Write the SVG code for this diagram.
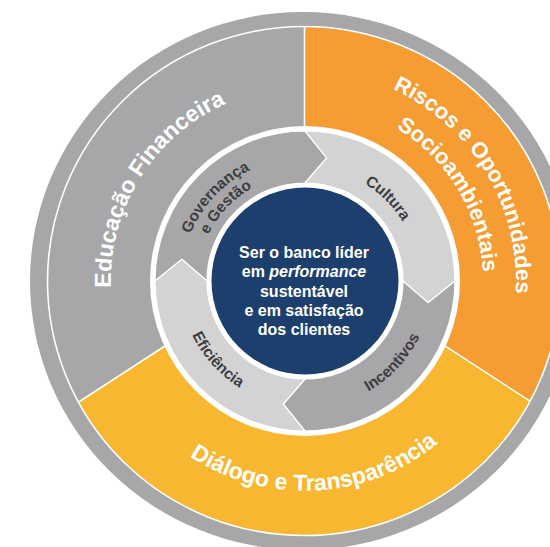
<svg xmlns="http://www.w3.org/2000/svg" xmlns:xlink="http://www.w3.org/1999/xlink" width="550" height="547" viewBox="0 0 550 547">
  <style>
    .outer-label { font-family: "Liberation Sans", Arial, sans-serif; font-weight: bold; font-size: 23px; fill: #ffffff; }
    .outer-label.narrow { font-size: 22px; }
    .ring-label { font-family: "Liberation Sans", Arial, sans-serif; font-weight: bold; font-size: 15.5px; fill: #3d3d3f; }
    .core-label { font-family: "Liberation Sans", Arial, sans-serif; font-weight: bold; font-size: 16px; fill: #ffffff; text-anchor: middle; }
    .divider { stroke: #ffffff; stroke-width: 1.6; fill: none; }
    .chevron { stroke: #ffffff; stroke-width: 1.2; stroke-linejoin: miter; }
    .dark { fill: #a7a7aa; }
    .light { fill: #d3d3d4; }
  </style>
  <defs>
    <clipPath id="bandClip">
      <ellipse cx="304" cy="281" rx="256" ry="254"/>
    </clipPath>
    <!-- baseline arcs for the curved labels -->
    <path id="arcEducacao" d="M175.2,425.2 A194,194 0 0 1 377.7,101.1"/>
    <path id="arcRiscos" d="M229.4,84 A211,211 0 0 1 443.4,440.2"/>
    <path id="arcSocio" d="M241.2,114.8 A178,178 0 0 1 421.8,415.3"/>
    <path id="arcDialogo" d="M100.4,328.2 A210,210 0 0 0 513.4,306.6"/>
    <path id="arcGov1" d="M206,355.6 A124,124 0 0 1 372.5,177"/>
    <path id="arcGov2" d="M219.5,345.4 A107,107 0 0 1 363.3,191.3"/>
    <path id="arcCultura" d="M239.6,187.6 A114,114 0 0 1 398.4,346.4"/>
    <path id="arcIncentivos" d="M235.6,387.9 A127.5,127.5 0 0 0 406.8,204.3"/>
    <path id="arcEficiencia" d="M206.5,204 A125,125 0 0 0 371.2,387"/>
  </defs>

  <rect width="550" height="547" fill="#ffffff"/>

  <!-- outer grey rim -->
  <ellipse cx="303" cy="281" rx="273" ry="269" fill="#a7a7aa"/>

  <!-- outer band: three pillars -->
  <g id="pillars" clip-path="url(#bandClip)">
    <g id="educacao-financeira">
      <polygon points="305,255 0,453.1 0,-10 305,-10" fill="#a7a7aa"/>
    </g>
    <g id="riscos-oportunidades">
      <polygon points="305,255 305,-10 600,-10 600,446.6" fill="#f59c33"/>
    </g>
    <g id="dialogo-transparencia">
      <polygon points="305,255 600,446.6 600,600 0,600 0,453.1" fill="#f8b730"/>
    </g>
    <line class="divider" x1="304.5" y1="255" x2="304.5" y2="0"/>
    <line class="divider" x1="305" y1="255" x2="600" y2="446.6"/>
    <line class="divider" x1="305" y1="255" x2="0" y2="453.1"/>
  </g>
  <ellipse cx="304" cy="281" rx="256.5" ry="254.5" class="divider"/>

  <!-- gap between pillars and the cycle ring -->
  <circle cx="305" cy="281" r="155" fill="#ffffff"/>

  <!-- cycle ring: four chevron segments -->
  <g id="governanca-gestao">
    <path class="dark chevron" d="M155,281 A150,150 0 0 1 305,131 L326.7,157.9 L305,183 A98,98 0 0 0 207,281 L181.9,259.3 Z"/>
  </g>
  <g id="cultura">
    <path class="light chevron" d="M305,131 A150,150 0 0 1 455,281 L428.1,302.7 L403,281 A98,98 0 0 0 305,183 L326.7,157.9 Z"/>
  </g>
  <g id="incentivos">
    <path class="dark chevron" d="M455,281 A150,150 0 0 1 305,431 L283.3,404.1 L305,379 A98,98 0 0 0 403,281 L428.1,302.7 Z"/>
  </g>
  <g id="eficiencia">
    <path class="light chevron" d="M305,431 A150,150 0 0 1 155,281 L181.9,259.3 L207,281 A98,98 0 0 0 305,379 L283.3,404.1 Z"/>
  </g>

  <!-- core goal -->
  <g id="core">
    <circle cx="305" cy="281" r="98" fill="#ffffff"/>
    <circle cx="305" cy="281" r="93.5" fill="#1d3f6e"/>
    <text class="core-label" x="304" y="258">Ser o banco líder</text>
    <text class="core-label" x="304" y="277.3">em <tspan font-style="italic">performance</tspan></text>
    <text class="core-label" x="304" y="296.6">sustentável</text>
    <text class="core-label" x="304" y="315.9">e em satisfação</text>
    <text class="core-label" x="304" y="335.2">dos clientes</text>
  </g>

  <!-- labels -->
  <g id="labels">
    <text class="outer-label"><textPath xlink:href="#arcEducacao" href="#arcEducacao" startOffset="50%" text-anchor="middle">Educação Financeira</textPath></text>
    <text class="outer-label narrow"><textPath xlink:href="#arcRiscos" href="#arcRiscos" startOffset="50%" text-anchor="middle">Riscos e Oportunidades</textPath></text>
    <text class="outer-label narrow"><textPath xlink:href="#arcSocio" href="#arcSocio" startOffset="50%" text-anchor="middle">Socioambientais</textPath></text>
    <text class="outer-label"><textPath xlink:href="#arcDialogo" href="#arcDialogo" startOffset="50%" text-anchor="middle">Diálogo e Transparência</textPath></text>
    <text class="ring-label"><textPath xlink:href="#arcGov1" href="#arcGov1" startOffset="50%" text-anchor="middle">Governança</textPath></text>
    <text class="ring-label"><textPath xlink:href="#arcGov2" href="#arcGov2" startOffset="50%" text-anchor="middle">e Gestão</textPath></text>
    <text class="ring-label"><textPath xlink:href="#arcCultura" href="#arcCultura" startOffset="50%" text-anchor="middle">Cultura</textPath></text>
    <text class="ring-label"><textPath xlink:href="#arcIncentivos" href="#arcIncentivos" startOffset="50%" text-anchor="middle">Incentivos</textPath></text>
    <text class="ring-label"><textPath xlink:href="#arcEficiencia" href="#arcEficiencia" startOffset="50%" text-anchor="middle">Eficiência</textPath></text>
  </g>
</svg>
